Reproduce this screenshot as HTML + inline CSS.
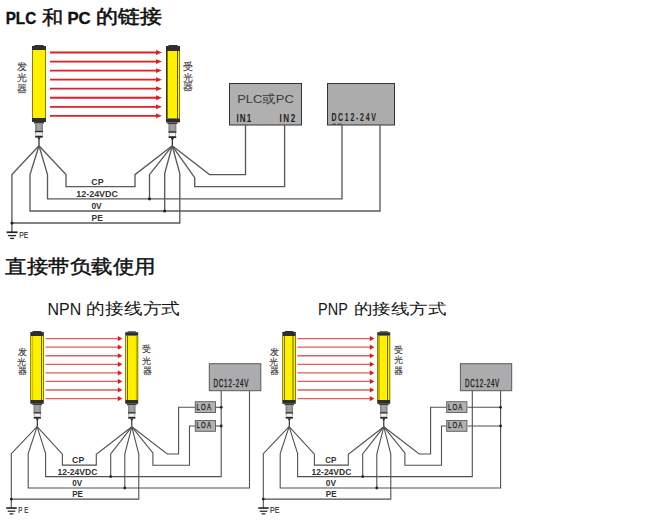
<!DOCTYPE html>
<html><head><meta charset="utf-8"><style>
html,body{margin:0;padding:0;background:#fff;}
body{width:645px;height:522px;overflow:hidden;position:relative;}
svg{position:absolute;left:0;top:0;}
</style></head><body>
<svg width="645" height="522" viewBox="0 0 645 522">
<rect x="34.50" y="45.00" width="9.00" height="1.20" fill="#333"/>
<rect x="32.00" y="46.00" width="14.00" height="4.00" fill="#2e2e2e"/>
<rect x="32.00" y="50.00" width="14.00" height="68.00" fill="#fff000"/>
<rect x="32.00" y="50.00" width="0.80" height="68.00" fill="#6b6400"/>
<rect x="45.20" y="50.00" width="0.80" height="68.00" fill="#6b6400"/>
<rect x="32.00" y="118.00" width="14.00" height="4.00" fill="#2e2e2e"/>
<rect x="34.00" y="122.00" width="10.00" height="1.60" fill="#3a3a3a"/>
<rect x="35.00" y="123.60" width="8.00" height="7.20" fill="#8a8a8a"/>
<rect x="37.00" y="124.20" width="4.00" height="6.00" fill="#a4a4a4"/>
<rect x="35.00" y="130.80" width="8.00" height="1.60" fill="#2a2a2a"/>
<rect x="35.40" y="132.60" width="7.20" height="3.00" fill="#9a9a9a"/>
<rect x="36.20" y="132.60" width="5.60" height="3.00" fill="#f2f2f2"/>
<rect x="35.20" y="135.80" width="7.60" height="1.80" fill="#262626"/>
<polygon points="37.40,137.60 40.60,137.60 39.60,139.50 39.60,145.70 38.40,145.70 38.40,139.50" fill="#262626"/>
<rect x="168.50" y="45.00" width="9.00" height="1.20" fill="#333"/>
<rect x="166.00" y="46.00" width="14.00" height="5.00" fill="#2e2e2e"/>
<rect x="166.00" y="51.00" width="14.00" height="67.40" fill="#fff000"/>
<rect x="166.00" y="51.00" width="0.80" height="67.40" fill="#6b6400"/>
<rect x="179.20" y="51.00" width="0.80" height="67.40" fill="#6b6400"/>
<rect x="166.00" y="51.00" width="1.60" height="67.40" fill="#3a3500"/>
<rect x="177.00" y="51.00" width="1.00" height="67.40" fill="#5a5200"/>
<rect x="166.00" y="118.40" width="14.00" height="4.00" fill="#2e2e2e"/>
<rect x="167.40" y="122.40" width="10.00" height="1.60" fill="#3a3a3a"/>
<rect x="168.40" y="124.00" width="8.00" height="7.20" fill="#8a8a8a"/>
<rect x="170.40" y="124.60" width="4.00" height="6.00" fill="#a4a4a4"/>
<rect x="168.40" y="131.20" width="8.00" height="1.60" fill="#2a2a2a"/>
<rect x="168.80" y="133.00" width="7.20" height="3.00" fill="#9a9a9a"/>
<rect x="169.60" y="133.00" width="5.60" height="3.00" fill="#f2f2f2"/>
<rect x="168.60" y="136.20" width="7.60" height="1.80" fill="#262626"/>
<polygon points="170.80,138.00 174.00,138.00 173.00,139.90 173.00,145.60 171.80,145.60 171.80,139.90" fill="#262626"/>
<line x1="50" y1="52.50" x2="156.50" y2="52.50" stroke="#e31e24" stroke-width="1.8"/>
<polygon points="156.00,50.10 162.00,52.50 156.00,54.90" fill="#e31e24"/>
<line x1="50" y1="61.55" x2="156.50" y2="61.55" stroke="#e31e24" stroke-width="1.8"/>
<polygon points="156.00,59.15 162.00,61.55 156.00,63.95" fill="#e31e24"/>
<line x1="50" y1="70.60" x2="156.50" y2="70.60" stroke="#e31e24" stroke-width="1.8"/>
<polygon points="156.00,68.20 162.00,70.60 156.00,73.00" fill="#e31e24"/>
<line x1="50" y1="79.65" x2="156.50" y2="79.65" stroke="#e31e24" stroke-width="1.8"/>
<polygon points="156.00,77.25 162.00,79.65 156.00,82.05" fill="#e31e24"/>
<line x1="50" y1="88.70" x2="156.50" y2="88.70" stroke="#e31e24" stroke-width="1.8"/>
<polygon points="156.00,86.30 162.00,88.70 156.00,91.10" fill="#e31e24"/>
<line x1="50" y1="97.75" x2="156.50" y2="97.75" stroke="#e31e24" stroke-width="1.8"/>
<polygon points="156.00,95.35 162.00,97.75 156.00,100.15" fill="#e31e24"/>
<line x1="50" y1="106.80" x2="156.50" y2="106.80" stroke="#e31e24" stroke-width="1.8"/>
<polygon points="156.00,104.40 162.00,106.80 156.00,109.20" fill="#e31e24"/>
<line x1="50" y1="115.85" x2="156.50" y2="115.85" stroke="#e31e24" stroke-width="1.8"/>
<polygon points="156.00,113.45 162.00,115.85 156.00,118.25" fill="#e31e24"/>
<rect x="229.50" y="83.50" width="72.00" height="41.50" fill="#b0b0b0" stroke="#333" stroke-width="1"/>
<rect x="327.50" y="83.50" width="67.00" height="41.50" fill="#acacac" stroke="#333" stroke-width="1"/>
<text x="237.208" y="103.445" font-family="'Liberation Sans', sans-serif" font-size="11.500" font-weight="normal" fill="#3a3a3a" textLength="56.595" lengthAdjust="spacingAndGlyphs">PLC或PC</text>
<text transform="translate(236.471,121.700) scale(0.8000,1)" x="0" y="0" font-family="'Liberation Sans', sans-serif" font-size="10.100" font-weight="bold" fill="#222" textLength="18.569" lengthAdjust="spacing">IN1</text>
<text transform="translate(279.471,121.700) scale(0.8000,1)" x="0" y="0" font-family="'Liberation Sans', sans-serif" font-size="10.100" font-weight="bold" fill="#222" textLength="19.694" lengthAdjust="spacing">IN2</text>
<text transform="translate(331.380,120.700) scale(0.6800,1)" x="0" y="0" font-family="'Liberation Sans', sans-serif" font-size="10.200" font-weight="bold" fill="#222" textLength="65.458" lengthAdjust="spacing">DC12-24V</text>
<rect x="332.50" y="123.60" width="3.50" height="1.20" fill="#444"/>
<rect x="337.50" y="123.60" width="4.00" height="1.20" fill="#444"/>
<polyline points="39.0,145.7 11.9,174.6 11.9,232.0" fill="none" stroke="#5a5a5a" stroke-width="1.35"/>
<polyline points="39.0,145.7 30.0,174.5 30.0,211.0 380.0,211.0 380.0,125.0" fill="none" stroke="#5a5a5a" stroke-width="1.35"/>
<polyline points="39.0,145.7 47.5,174.5 47.5,198.8 342.0,198.8 342.0,125.0" fill="none" stroke="#5a5a5a" stroke-width="1.35"/>
<polyline points="39.0,145.7 66.0,174.5 66.0,186.6 135.0,186.6 135.0,174.7 172.2,145.8" fill="none" stroke="#5a5a5a" stroke-width="1.35"/>
<polyline points="12.0,223.0 179.8,223.0 179.8,173.6 172.2,145.8" fill="none" stroke="#5a5a5a" stroke-width="1.35"/>
<polyline points="172.2,145.8 149.5,174.7 149.5,198.8" fill="none" stroke="#5a5a5a" stroke-width="1.35"/>
<polyline points="172.2,145.8 164.7,173.6 164.7,211.0" fill="none" stroke="#5a5a5a" stroke-width="1.35"/>
<polyline points="172.2,145.8 194.7,177.6 194.7,186.6 284.6,186.6 284.6,125.0" fill="none" stroke="#5a5a5a" stroke-width="1.35"/>
<polyline points="172.2,145.8 209.5,174.6 245.5,174.6 245.5,125.0" fill="none" stroke="#5a5a5a" stroke-width="1.35"/>
<circle cx="149.5" cy="198.8" r="1.6" fill="#222"/>
<circle cx="164.7" cy="211.0" r="1.6" fill="#222"/>
<circle cx="12.0" cy="223.0" r="1.6" fill="#222"/>
<rect x="6.60" y="231.40" width="11.00" height="1.70" fill="#222"/>
<rect x="8.10" y="234.95" width="8.00" height="1.30" fill="#222"/>
<rect x="10.10" y="237.75" width="4.00" height="1.30" fill="#222"/>
<text x="91.325" y="184.900" font-family="'Liberation Sans', sans-serif" font-size="8.600" font-weight="bold" fill="#333" textLength="12.240" lengthAdjust="spacingAndGlyphs">CP</text>
<text x="76.269" y="196.900" font-family="'Liberation Sans', sans-serif" font-size="8.600" font-weight="bold" fill="#333" textLength="41.717" lengthAdjust="spacingAndGlyphs">12-24VDC</text>
<text x="91.414" y="208.500" font-family="'Liberation Sans', sans-serif" font-size="8.600" font-weight="bold" fill="#333" textLength="10.265" lengthAdjust="spacingAndGlyphs">0V</text>
<text x="91.490" y="220.900" font-family="'Liberation Sans', sans-serif" font-size="8.600" font-weight="bold" fill="#333" textLength="11.314" lengthAdjust="spacingAndGlyphs">PE</text>
<text transform="translate(19.305,238.100) scale(0.8000,1)" x="0" y="0" font-family="'Liberation Sans', sans-serif" font-size="9.500" font-weight="normal" fill="#2e2e2e" textLength="11.313" lengthAdjust="spacingAndGlyphs" stroke="#2e2e2e" stroke-width="0.2">PE</text>
<rect x="32.67" y="331.00" width="8.75" height="1.14" fill="#333"/>
<rect x="30.30" y="331.95" width="13.50" height="4.05" fill="#2e2e2e"/>
<rect x="30.30" y="336.00" width="13.50" height="64.00" fill="#fff000"/>
<rect x="30.30" y="336.00" width="0.80" height="64.00" fill="#6b6400"/>
<rect x="43.00" y="336.00" width="0.80" height="64.00" fill="#6b6400"/>
<rect x="32.20" y="336.00" width="1.00" height="64.00" fill="#c8b800"/>
<rect x="41.00" y="336.00" width="1.00" height="64.00" fill="#6a6000"/>
<rect x="30.30" y="400.00" width="13.50" height="3.80" fill="#2e2e2e"/>
<rect x="32.55" y="403.80" width="9.50" height="1.52" fill="#3a3a3a"/>
<rect x="33.50" y="405.32" width="7.60" height="6.84" fill="#8a8a8a"/>
<rect x="35.40" y="405.89" width="3.80" height="5.70" fill="#a4a4a4"/>
<rect x="33.50" y="412.16" width="7.60" height="1.52" fill="#2a2a2a"/>
<rect x="33.88" y="413.87" width="6.84" height="2.85" fill="#9a9a9a"/>
<rect x="34.64" y="413.87" width="5.32" height="2.85" fill="#f2f2f2"/>
<rect x="33.69" y="416.91" width="7.22" height="1.71" fill="#262626"/>
<polygon points="35.78,418.62 38.82,418.62 37.87,420.43 37.87,426.60 36.73,426.60 36.73,420.43" fill="#262626"/>
<rect x="127.58" y="331.30" width="8.25" height="1.14" fill="#333"/>
<rect x="125.20" y="332.25" width="13.00" height="3.55" fill="#2e2e2e"/>
<rect x="125.20" y="335.80" width="13.00" height="64.20" fill="#fff000"/>
<rect x="125.20" y="335.80" width="0.80" height="64.20" fill="#6b6400"/>
<rect x="137.40" y="335.80" width="0.80" height="64.20" fill="#6b6400"/>
<rect x="127.00" y="335.80" width="1.00" height="64.20" fill="#6a6000"/>
<rect x="135.90" y="335.80" width="1.00" height="64.20" fill="#c0b000"/>
<rect x="125.20" y="400.00" width="13.00" height="3.80" fill="#2e2e2e"/>
<rect x="127.05" y="403.80" width="9.50" height="1.52" fill="#3a3a3a"/>
<rect x="128.00" y="405.32" width="7.60" height="6.84" fill="#8a8a8a"/>
<rect x="129.90" y="405.89" width="3.80" height="5.70" fill="#a4a4a4"/>
<rect x="128.00" y="412.16" width="7.60" height="1.52" fill="#2a2a2a"/>
<rect x="128.38" y="413.87" width="6.84" height="2.85" fill="#9a9a9a"/>
<rect x="129.14" y="413.87" width="5.32" height="2.85" fill="#f2f2f2"/>
<rect x="128.19" y="416.91" width="7.22" height="1.71" fill="#262626"/>
<polygon points="130.28,418.62 133.32,418.62 132.37,420.43 132.37,426.60 131.23,426.60 131.23,420.43" fill="#262626"/>
<line x1="45.5" y1="338.60" x2="118.30" y2="338.60" stroke="#e65a5a" stroke-width="1.3"/>
<polygon points="117.80,336.00 122.40,338.60 117.80,341.20" fill="#e01c1c"/>
<line x1="45.5" y1="347.17" x2="118.30" y2="347.17" stroke="#e65a5a" stroke-width="1.3"/>
<polygon points="117.80,344.57 122.40,347.17 117.80,349.77" fill="#e01c1c"/>
<line x1="45.5" y1="355.74" x2="118.30" y2="355.74" stroke="#e65a5a" stroke-width="1.3"/>
<polygon points="117.80,353.14 122.40,355.74 117.80,358.34" fill="#e01c1c"/>
<line x1="45.5" y1="364.31" x2="118.30" y2="364.31" stroke="#e65a5a" stroke-width="1.3"/>
<polygon points="117.80,361.71 122.40,364.31 117.80,366.91" fill="#e01c1c"/>
<line x1="45.5" y1="372.88" x2="118.30" y2="372.88" stroke="#e65a5a" stroke-width="1.3"/>
<polygon points="117.80,370.28 122.40,372.88 117.80,375.48" fill="#e01c1c"/>
<line x1="45.5" y1="381.45" x2="118.30" y2="381.45" stroke="#e65a5a" stroke-width="1.3"/>
<polygon points="117.80,378.85 122.40,381.45 117.80,384.05" fill="#e01c1c"/>
<line x1="45.5" y1="390.02" x2="118.30" y2="390.02" stroke="#e65a5a" stroke-width="1.3"/>
<polygon points="117.80,387.42 122.40,390.02 117.80,392.62" fill="#e01c1c"/>
<line x1="45.5" y1="398.59" x2="118.30" y2="398.59" stroke="#e65a5a" stroke-width="1.3"/>
<polygon points="117.80,395.99 122.40,398.59 117.80,401.19" fill="#e01c1c"/>
<polyline points="37.1,426.6 11.3,453.6 11.3,508.0" fill="none" stroke="#505050" stroke-width="1.1"/>
<polyline points="37.1,426.6 28.2,453.6 28.2,488.0 249.5,488.0 249.5,390.6" fill="none" stroke="#505050" stroke-width="1.1"/>
<polyline points="37.1,426.6 45.6,453.6 45.6,476.6 221.2,476.6 221.2,390.6" fill="none" stroke="#505050" stroke-width="1.1"/>
<polyline points="37.1,426.6 62.4,454.2 62.4,465.1 96.3,465.1 96.3,454.2 131.8,426.8" fill="none" stroke="#505050" stroke-width="1.1"/>
<polyline points="11.3,499.1 138.8,499.1 138.8,454.0 131.8,426.8" fill="none" stroke="#505050" stroke-width="1.1"/>
<polyline points="131.8,426.8 110.7,454.0 110.7,476.6" fill="none" stroke="#505050" stroke-width="1.1"/>
<polyline points="131.8,426.8 124.8,454.0 124.8,488.0" fill="none" stroke="#505050" stroke-width="1.1"/>
<polyline points="131.8,426.8 167.2,454.0 178.6,454.0 178.6,407.3 195.3,407.3" fill="none" stroke="#505050" stroke-width="1.1"/>
<polyline points="131.8,426.8 152.9,453.0 152.9,465.2 189.5,465.2 189.5,426.0 195.3,426.0" fill="none" stroke="#505050" stroke-width="1.1"/>
<circle cx="110.7" cy="476.6" r="1.4" fill="#222"/>
<circle cx="124.8" cy="488.0" r="1.4" fill="#222"/>
<circle cx="11.3" cy="499.1" r="1.4" fill="#222"/>
<rect x="209.30" y="363.70" width="51.50" height="27.00" fill="#acabad" stroke="#5a5a5a" stroke-width="1"/>
<rect x="195.30" y="401.70" width="20.20" height="10.80" fill="#b2b1b3" stroke="#666" stroke-width="1"/>
<rect x="195.30" y="420.50" width="20.20" height="10.80" fill="#b2b1b3" stroke="#666" stroke-width="1"/>
<polyline points="215.5,407.3 221.2,407.3" fill="none" stroke="#505050" stroke-width="1.1"/>
<polyline points="215.5,426.0 221.2,426.0" fill="none" stroke="#505050" stroke-width="1.1"/>
<circle cx="221.2" cy="407.3" r="1.4" fill="#222"/>
<circle cx="221.2" cy="426.0" r="1.4" fill="#222"/>
<rect x="6.28" y="507.24" width="10.45" height="1.61" fill="#222"/>
<rect x="7.70" y="510.61" width="7.60" height="1.23" fill="#222"/>
<rect x="9.60" y="513.27" width="3.80" height="1.23" fill="#222"/>
<rect x="284.68" y="331.00" width="8.75" height="1.14" fill="#333"/>
<rect x="282.30" y="331.95" width="13.50" height="4.05" fill="#2e2e2e"/>
<rect x="282.30" y="336.00" width="13.50" height="64.00" fill="#fff000"/>
<rect x="282.30" y="336.00" width="0.80" height="64.00" fill="#6b6400"/>
<rect x="295.00" y="336.00" width="0.80" height="64.00" fill="#6b6400"/>
<rect x="284.00" y="336.00" width="1.00" height="64.00" fill="#8a7e00"/>
<rect x="292.50" y="336.00" width="1.00" height="64.00" fill="#6a6000"/>
<rect x="282.30" y="400.00" width="13.50" height="3.80" fill="#2e2e2e"/>
<rect x="284.55" y="403.80" width="9.50" height="1.52" fill="#3a3a3a"/>
<rect x="285.50" y="405.32" width="7.60" height="6.84" fill="#8a8a8a"/>
<rect x="287.40" y="405.89" width="3.80" height="5.70" fill="#a4a4a4"/>
<rect x="285.50" y="412.16" width="7.60" height="1.52" fill="#2a2a2a"/>
<rect x="285.88" y="413.87" width="6.84" height="2.85" fill="#9a9a9a"/>
<rect x="286.64" y="413.87" width="5.32" height="2.85" fill="#f2f2f2"/>
<rect x="285.69" y="416.91" width="7.22" height="1.71" fill="#262626"/>
<polygon points="287.78,418.62 290.82,418.62 289.87,420.43 289.87,426.60 288.73,426.60 288.73,420.43" fill="#262626"/>
<rect x="379.57" y="331.30" width="8.25" height="1.14" fill="#333"/>
<rect x="377.20" y="332.25" width="13.00" height="3.55" fill="#2e2e2e"/>
<rect x="377.20" y="335.80" width="13.00" height="64.20" fill="#fff000"/>
<rect x="377.20" y="335.80" width="0.80" height="64.20" fill="#6b6400"/>
<rect x="389.40" y="335.80" width="0.80" height="64.20" fill="#6b6400"/>
<rect x="378.50" y="335.80" width="1.00" height="64.20" fill="#8a7e00"/>
<rect x="387.00" y="335.80" width="1.00" height="64.20" fill="#6a6000"/>
<rect x="377.20" y="400.00" width="13.00" height="3.80" fill="#2e2e2e"/>
<rect x="379.05" y="403.80" width="9.50" height="1.52" fill="#3a3a3a"/>
<rect x="380.00" y="405.32" width="7.60" height="6.84" fill="#8a8a8a"/>
<rect x="381.90" y="405.89" width="3.80" height="5.70" fill="#a4a4a4"/>
<rect x="380.00" y="412.16" width="7.60" height="1.52" fill="#2a2a2a"/>
<rect x="380.38" y="413.87" width="6.84" height="2.85" fill="#9a9a9a"/>
<rect x="381.14" y="413.87" width="5.32" height="2.85" fill="#f2f2f2"/>
<rect x="380.19" y="416.91" width="7.22" height="1.71" fill="#262626"/>
<polygon points="382.28,418.62 385.32,418.62 384.37,420.43 384.37,426.60 383.23,426.60 383.23,420.43" fill="#262626"/>
<line x1="297.5" y1="338.60" x2="370.30" y2="338.60" stroke="#e65a5a" stroke-width="1.3"/>
<polygon points="369.80,336.00 374.40,338.60 369.80,341.20" fill="#e01c1c"/>
<line x1="297.5" y1="347.17" x2="370.30" y2="347.17" stroke="#e65a5a" stroke-width="1.3"/>
<polygon points="369.80,344.57 374.40,347.17 369.80,349.77" fill="#e01c1c"/>
<line x1="297.5" y1="355.74" x2="370.30" y2="355.74" stroke="#e65a5a" stroke-width="1.3"/>
<polygon points="369.80,353.14 374.40,355.74 369.80,358.34" fill="#e01c1c"/>
<line x1="297.5" y1="364.31" x2="370.30" y2="364.31" stroke="#e65a5a" stroke-width="1.3"/>
<polygon points="369.80,361.71 374.40,364.31 369.80,366.91" fill="#e01c1c"/>
<line x1="297.5" y1="372.88" x2="370.30" y2="372.88" stroke="#e65a5a" stroke-width="1.3"/>
<polygon points="369.80,370.28 374.40,372.88 369.80,375.48" fill="#e01c1c"/>
<line x1="297.5" y1="381.45" x2="370.30" y2="381.45" stroke="#e65a5a" stroke-width="1.3"/>
<polygon points="369.80,378.85 374.40,381.45 369.80,384.05" fill="#e01c1c"/>
<line x1="297.5" y1="390.02" x2="370.30" y2="390.02" stroke="#e65a5a" stroke-width="1.3"/>
<polygon points="369.80,387.42 374.40,390.02 369.80,392.62" fill="#e01c1c"/>
<line x1="297.5" y1="398.59" x2="370.30" y2="398.59" stroke="#e65a5a" stroke-width="1.3"/>
<polygon points="369.80,395.99 374.40,398.59 369.80,401.19" fill="#e01c1c"/>
<polyline points="289.1,426.6 263.3,453.6 263.3,508.0" fill="none" stroke="#505050" stroke-width="1.1"/>
<polyline points="289.1,426.6 280.2,453.6 280.2,488.0 500.6,488.0 500.6,390.6" fill="none" stroke="#505050" stroke-width="1.1"/>
<polyline points="289.1,426.6 297.6,453.6 297.6,476.6 472.3,476.6 472.3,390.6" fill="none" stroke="#505050" stroke-width="1.1"/>
<polyline points="289.1,426.6 314.4,454.2 314.4,465.1 348.3,465.1 348.3,454.2 383.8,426.8" fill="none" stroke="#505050" stroke-width="1.1"/>
<polyline points="263.3,499.1 390.8,499.1 390.8,454.0 383.8,426.8" fill="none" stroke="#505050" stroke-width="1.1"/>
<polyline points="383.8,426.8 362.7,454.0 362.7,476.6" fill="none" stroke="#505050" stroke-width="1.1"/>
<polyline points="383.8,426.8 376.8,454.0 376.8,488.0" fill="none" stroke="#505050" stroke-width="1.1"/>
<polyline points="383.8,426.8 419.2,454.0 430.6,454.0 430.6,407.3 447.3,407.3" fill="none" stroke="#505050" stroke-width="1.1"/>
<polyline points="383.8,426.8 404.9,453.0 404.9,465.2 441.5,465.2 441.5,426.0 447.3,426.0" fill="none" stroke="#505050" stroke-width="1.1"/>
<circle cx="362.7" cy="476.6" r="1.4" fill="#222"/>
<circle cx="376.8" cy="488.0" r="1.4" fill="#222"/>
<circle cx="263.3" cy="499.1" r="1.4" fill="#222"/>
<rect x="460.40" y="363.70" width="51.30" height="27.00" fill="#acabad" stroke="#5a5a5a" stroke-width="1"/>
<rect x="446.70" y="401.70" width="20.20" height="10.80" fill="#b2b1b3" stroke="#666" stroke-width="1"/>
<rect x="446.70" y="420.50" width="20.20" height="10.80" fill="#b2b1b3" stroke="#666" stroke-width="1"/>
<polyline points="467.5,407.3 500.6,407.3" fill="none" stroke="#505050" stroke-width="1.1"/>
<polyline points="467.5,426.0 500.6,426.0" fill="none" stroke="#505050" stroke-width="1.1"/>
<circle cx="500.6" cy="407.3" r="1.4" fill="#222"/>
<circle cx="500.6" cy="426.0" r="1.4" fill="#222"/>
<rect x="258.27" y="507.24" width="10.45" height="1.61" fill="#222"/>
<rect x="259.70" y="510.61" width="7.60" height="1.23" fill="#222"/>
<rect x="261.60" y="513.27" width="3.80" height="1.23" fill="#222"/>
<text transform="translate(213.397,386.900) scale(0.6200,1)" x="0" y="0" font-family="'Liberation Sans', sans-serif" font-size="10.000" font-weight="normal" fill="#222" textLength="56.614" lengthAdjust="spacing" stroke="#222" stroke-width="0.35">DC12-24V</text>
<text x="72.098" y="462.900" font-family="'Liberation Sans', sans-serif" font-size="8.200" font-weight="bold" fill="#333" textLength="12.186" lengthAdjust="spacingAndGlyphs">CP</text>
<text x="57.508" y="474.900" font-family="'Liberation Sans', sans-serif" font-size="8.200" font-weight="bold" fill="#333" textLength="39.793" lengthAdjust="spacingAndGlyphs">12-24VDC</text>
<text x="72.358" y="485.700" font-family="'Liberation Sans', sans-serif" font-size="8.200" font-weight="bold" fill="#333" textLength="9.894" lengthAdjust="spacingAndGlyphs">0V</text>
<text x="72.182" y="496.700" font-family="'Liberation Sans', sans-serif" font-size="8.200" font-weight="bold" fill="#333" textLength="10.705" lengthAdjust="spacingAndGlyphs">PE</text>
<text transform="translate(18.193,513.110) scale(0.7200,1)" x="0" y="0" font-family="'Liberation Sans', sans-serif" font-size="8.600" font-weight="normal" fill="#2e2e2e" textLength="14.116" lengthAdjust="spacing" stroke="#2e2e2e" stroke-width="0.2">PE</text>
<text transform="translate(465.103,386.900) scale(0.6200,1)" x="0" y="0" font-family="'Liberation Sans', sans-serif" font-size="10.000" font-weight="normal" fill="#222" textLength="55.083" lengthAdjust="spacing" stroke="#222" stroke-width="0.35">DC12-24V</text>
<text x="325.176" y="462.900" font-family="'Liberation Sans', sans-serif" font-size="8.200" font-weight="bold" fill="#333" textLength="11.082" lengthAdjust="spacingAndGlyphs">CP</text>
<text x="311.585" y="474.900" font-family="'Liberation Sans', sans-serif" font-size="8.200" font-weight="bold" fill="#333" textLength="39.764" lengthAdjust="spacingAndGlyphs">12-24VDC</text>
<text x="325.765" y="485.700" font-family="'Liberation Sans', sans-serif" font-size="8.200" font-weight="bold" fill="#333" textLength="10.250" lengthAdjust="spacingAndGlyphs">0V</text>
<text x="325.831" y="496.700" font-family="'Liberation Sans', sans-serif" font-size="8.200" font-weight="bold" fill="#333" textLength="10.839" lengthAdjust="spacingAndGlyphs">PE</text>
<text transform="translate(270.066,513.110) scale(0.8000,1)" x="0" y="0" font-family="'Liberation Sans', sans-serif" font-size="8.600" font-weight="normal" fill="#2e2e2e" textLength="11.794" lengthAdjust="spacingAndGlyphs" stroke="#2e2e2e" stroke-width="0.2">PE</text>
<text transform="translate(196.493,409.920) scale(0.7000,1)" x="0" y="0" font-family="'Liberation Sans', sans-serif" font-size="8.600" font-weight="normal" fill="#222" textLength="20.588" lengthAdjust="spacing" stroke="#222" stroke-width="0.3">LOA</text>
<text transform="translate(196.493,428.020) scale(0.7000,1)" x="0" y="0" font-family="'Liberation Sans', sans-serif" font-size="8.600" font-weight="normal" fill="#222" textLength="20.588" lengthAdjust="spacing" stroke="#222" stroke-width="0.3">LOA</text>
<text transform="translate(447.893,409.920) scale(0.7000,1)" x="0" y="0" font-family="'Liberation Sans', sans-serif" font-size="8.600" font-weight="normal" fill="#222" textLength="20.588" lengthAdjust="spacing" stroke="#222" stroke-width="0.3">LOA</text>
<text transform="translate(447.893,428.020) scale(0.7000,1)" x="0" y="0" font-family="'Liberation Sans', sans-serif" font-size="8.600" font-weight="normal" fill="#222" textLength="20.588" lengthAdjust="spacing" stroke="#222" stroke-width="0.3">LOA</text>
<text x="5.671" y="24.400" font-family="'Liberation Sans', sans-serif" font-size="15.689" font-weight="bold" fill="#111" textLength="30.487" lengthAdjust="spacingAndGlyphs" stroke="#111" stroke-width="0.35">PLC</text>
<text x="41.673" y="23.902" font-family="'Liberation Sans', sans-serif" font-size="18.895" font-weight="normal" fill="#111" textLength="21.308" lengthAdjust="spacingAndGlyphs" stroke="#111" stroke-width="0.4">和</text>
<text x="67.464" y="24.400" font-family="'Liberation Sans', sans-serif" font-size="15.689" font-weight="bold" fill="#111" textLength="23.262" lengthAdjust="spacingAndGlyphs" stroke="#111" stroke-width="0.35">PC</text>
<text x="95.893" y="23.475" font-family="'Liberation Sans', sans-serif" font-size="18.777" font-weight="normal" fill="#111" textLength="65.938" lengthAdjust="spacingAndGlyphs" stroke="#111" stroke-width="0.55">的链接</text>
<text x="5.100" y="273.014" font-family="'Liberation Serif', serif" font-size="19.202" font-weight="normal" fill="#111" textLength="150.802" lengthAdjust="spacingAndGlyphs" stroke="#111" stroke-width="0.4">直接带负载使用</text>
<text x="47.597" y="314.600" font-family="'Liberation Sans', sans-serif" font-size="15.610" font-weight="normal" fill="#151515" textLength="33.603" lengthAdjust="spacingAndGlyphs">NPN</text>
<text x="86.450" y="313.603" font-family="'Liberation Sans', sans-serif" font-size="15.528" font-weight="normal" fill="#151515" textLength="93.455" lengthAdjust="spacingAndGlyphs">的接线方式</text>
<text x="318.124" y="314.600" font-family="'Liberation Sans', sans-serif" font-size="15.610" font-weight="normal" fill="#151515" textLength="29.738" lengthAdjust="spacingAndGlyphs">PNP</text>
<text x="353.967" y="314.456" font-family="'Liberation Sans', sans-serif" font-size="15.474" font-weight="normal" fill="#151515" textLength="92.577" lengthAdjust="spacingAndGlyphs">的接线方式</text>
<text x="16.916" y="69.613" font-family="'Liberation Sans', sans-serif" font-size="10.000" font-weight="normal" fill="#3c3c3c" stroke="#3c3c3c" stroke-width="0.12">发</text>
<text x="16.549" y="80.625" font-family="'Liberation Sans', sans-serif" font-size="10.000" font-weight="normal" fill="#3c3c3c" stroke="#3c3c3c" stroke-width="0.12">光</text>
<text x="16.924" y="91.613" font-family="'Liberation Sans', sans-serif" font-size="10.000" font-weight="normal" fill="#3c3c3c" stroke="#3c3c3c" stroke-width="0.12">器</text>
<text x="183.221" y="69.956" font-family="'Liberation Sans', sans-serif" font-size="10.000" font-weight="normal" fill="#3c3c3c" stroke="#3c3c3c" stroke-width="0.12">受</text>
<text x="182.699" y="80.575" font-family="'Liberation Sans', sans-serif" font-size="10.000" font-weight="normal" fill="#3c3c3c" stroke="#3c3c3c" stroke-width="0.12">光</text>
<text x="183.074" y="90.463" font-family="'Liberation Sans', sans-serif" font-size="10.000" font-weight="normal" fill="#3c3c3c" stroke="#3c3c3c" stroke-width="0.12">器</text>
<text x="17.757" y="354.519" font-family="'Liberation Sans', sans-serif" font-size="9.300" font-weight="normal" fill="#3c3c3c" stroke="#3c3c3c" stroke-width="0.12">发</text>
<text x="17.265" y="364.881" font-family="'Liberation Sans', sans-serif" font-size="9.300" font-weight="normal" fill="#3c3c3c" stroke="#3c3c3c" stroke-width="0.12">光</text>
<text x="17.551" y="374.449" font-family="'Liberation Sans', sans-serif" font-size="9.300" font-weight="normal" fill="#3c3c3c" stroke="#3c3c3c" stroke-width="0.12">器</text>
<text x="141.854" y="352.476" font-family="'Liberation Sans', sans-serif" font-size="9.300" font-weight="normal" fill="#3c3c3c" stroke="#3c3c3c" stroke-width="0.12">受</text>
<text x="142.465" y="364.231" font-family="'Liberation Sans', sans-serif" font-size="9.300" font-weight="normal" fill="#3c3c3c" stroke="#3c3c3c" stroke-width="0.12">光</text>
<text x="142.751" y="373.549" font-family="'Liberation Sans', sans-serif" font-size="9.300" font-weight="normal" fill="#3c3c3c" stroke="#3c3c3c" stroke-width="0.12">器</text>
<text x="269.757" y="354.519" font-family="'Liberation Sans', sans-serif" font-size="9.300" font-weight="normal" fill="#3c3c3c" stroke="#3c3c3c" stroke-width="0.12">发</text>
<text x="269.265" y="364.881" font-family="'Liberation Sans', sans-serif" font-size="9.300" font-weight="normal" fill="#3c3c3c" stroke="#3c3c3c" stroke-width="0.12">光</text>
<text x="269.551" y="374.449" font-family="'Liberation Sans', sans-serif" font-size="9.300" font-weight="normal" fill="#3c3c3c" stroke="#3c3c3c" stroke-width="0.12">器</text>
<text x="394.154" y="352.976" font-family="'Liberation Sans', sans-serif" font-size="9.300" font-weight="normal" fill="#3c3c3c" stroke="#3c3c3c" stroke-width="0.12">受</text>
<text x="393.765" y="363.331" font-family="'Liberation Sans', sans-serif" font-size="9.300" font-weight="normal" fill="#3c3c3c" stroke="#3c3c3c" stroke-width="0.12">光</text>
<text x="394.051" y="373.649" font-family="'Liberation Sans', sans-serif" font-size="9.300" font-weight="normal" fill="#3c3c3c" stroke="#3c3c3c" stroke-width="0.12">器</text>
</svg>
</body></html>
